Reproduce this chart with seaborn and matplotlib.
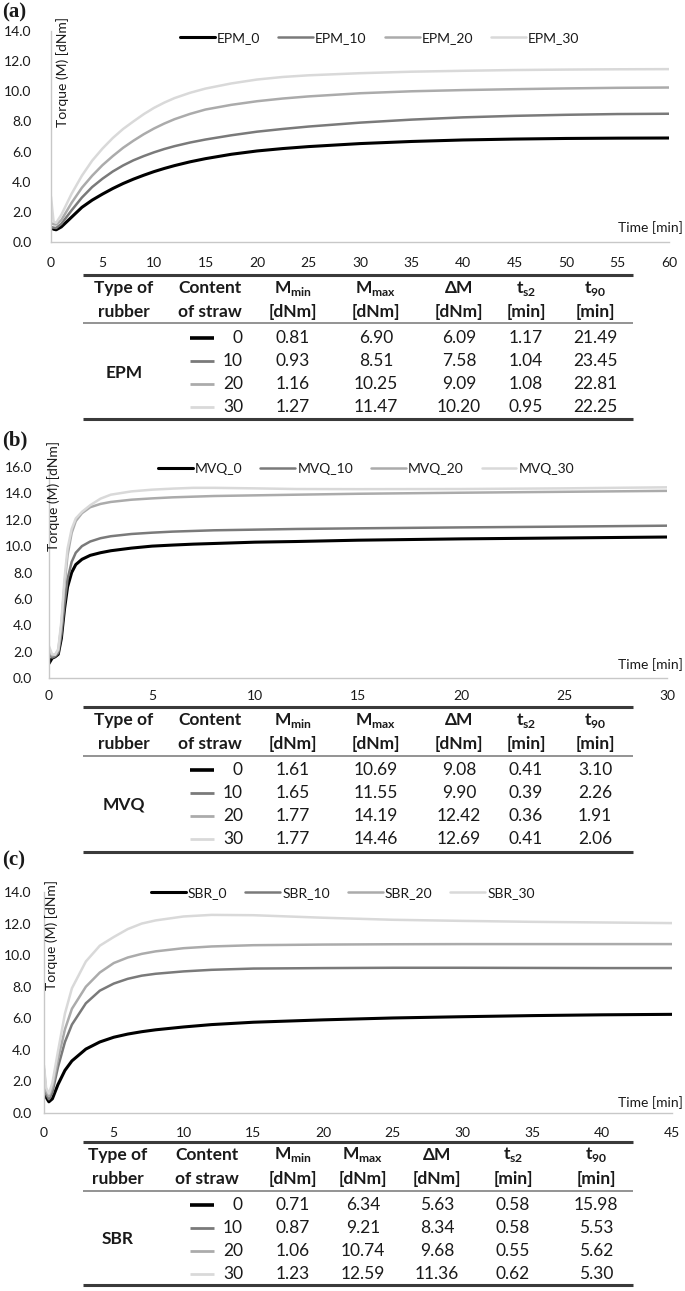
import numpy as np
import pandas as pd
import seaborn as sns
import matplotlib.pyplot as plt
from matplotlib.lines import Line2D
from matplotlib.ticker import FormatStrFormatter

# ---- data ----
t_epm = [0, 0.25, 0.5, 1, 2, 3, 4, 5, 6, 7, 8, 9, 10, 11, 12, 13.5, 15, 17.5, 20, 22.5, 25, 30, 35, 40, 45, 50, 55, 60]
epm_0 = [0.95, 0.85, 0.81, 1.0, 1.65, 2.3, 2.78, 3.18, 3.55, 3.88, 4.17, 4.43, 4.67, 4.88, 5.07, 5.32, 5.53, 5.82, 6.04, 6.2, 6.33, 6.53, 6.67, 6.77, 6.83, 6.87, 6.89, 6.9]
epm_10 = [1.0, 0.95, 0.93, 1.2, 2.1, 2.95, 3.65, 4.2, 4.68, 5.08, 5.42, 5.7, 5.95, 6.17, 6.36, 6.6, 6.8, 7.08, 7.32, 7.5, 7.66, 7.92, 8.12, 8.27, 8.37, 8.44, 8.49, 8.51]
epm_20 = [1.25, 1.18, 1.16, 1.45, 2.6, 3.6, 4.4, 5.1, 5.7, 6.25, 6.72, 7.15, 7.53, 7.86, 8.15, 8.5, 8.79, 9.1, 9.34, 9.52, 9.66, 9.87, 10.0, 10.08, 10.14, 10.19, 10.23, 10.25]
epm_30 = [3.0, 1.35, 1.27, 1.8, 3.2, 4.4, 5.4, 6.2, 6.9, 7.5, 8.0, 8.48, 8.9, 9.25, 9.55, 9.9, 10.18, 10.52, 10.78, 10.95, 11.06, 11.2, 11.3, 11.36, 11.41, 11.44, 11.46, 11.47]

t_mvq = [0, 0.15, 0.3, 0.45, 0.6, 0.75, 0.9, 1.1, 1.3, 1.6, 2, 2.5, 3, 4, 5, 6, 7, 8, 10, 12, 15, 20, 25, 30]
mvq_0 = [1.1, 1.5, 1.61, 1.8, 3.0, 5.2, 6.9, 8.0, 8.6, 9.0, 9.3, 9.5, 9.65, 9.85, 10.0, 10.08, 10.15, 10.2, 10.3, 10.35, 10.45, 10.55, 10.62, 10.69]
mvq_10 = [1.8, 1.55, 1.65, 1.9, 3.3, 5.6, 7.5, 8.8, 9.5, 10.0, 10.35, 10.6, 10.75, 10.92, 11.02, 11.1, 11.15, 11.2, 11.25, 11.3, 11.35, 11.42, 11.48, 11.55]
mvq_20 = [2.2, 1.7, 1.77, 2.1, 4.0, 7.0, 9.3, 11.0, 11.9, 12.5, 12.95, 13.2, 13.35, 13.52, 13.62, 13.7, 13.75, 13.8, 13.85, 13.9, 13.97, 14.05, 14.12, 14.19]
mvq_30 = [2.4, 1.8, 1.77, 2.2, 4.3, 7.5, 9.8, 11.3, 12.1, 12.6, 13.1, 13.6, 13.9, 14.15, 14.28, 14.36, 14.42, 14.42, 14.38, 14.33, 14.32, 14.33, 14.38, 14.46]

t_sbr = [0, 0.15, 0.35, 0.6, 1, 1.5, 2, 3, 4, 5, 6, 7, 8, 10, 12, 15, 20, 25, 30, 35, 40, 45]
sbr_0 = [2.0, 1.0, 0.71, 0.9, 1.8, 2.7, 3.3, 4.05, 4.5, 4.8, 5.0, 5.15, 5.27, 5.45, 5.6, 5.75, 5.9, 6.02, 6.1, 6.17, 6.22, 6.25]
sbr_10 = [2.5, 1.2, 0.87, 1.3, 2.9, 4.5, 5.6, 6.95, 7.75, 8.2, 8.5, 8.7, 8.82, 8.97, 9.07, 9.15, 9.18, 9.2, 9.2, 9.19, 9.18, 9.18]
sbr_20 = [2.8, 1.4, 1.06, 1.6, 3.4, 5.3, 6.6, 8.0, 8.9, 9.5, 9.85, 10.08, 10.24, 10.44, 10.55, 10.63, 10.67, 10.69, 10.7, 10.7, 10.7, 10.7]
sbr_30 = [3.0, 1.6, 1.23, 1.9, 3.9, 6.3, 7.9, 9.6, 10.6, 11.15, 11.65, 12.0, 12.2, 12.45, 12.55, 12.53, 12.37, 12.24, 12.17, 12.11, 12.07, 12.03]

straw = ['0', '10', '20', '30']

# ---- table values ----
epm_tab = {'mmin': ['0.81', '0.93', '1.16', '1.27'], 'mmax': ['6.90', '8.51', '10.25', '11.47'],
           'dm': ['6.09', '7.58', '9.09', '10.20'], 'ts2': ['1.17', '1.04', '1.08', '0.95'],
           't90': ['21.49', '23.45', '22.81', '22.25']}
mvq_tab = {'mmin': ['1.61', '1.65', '1.77', '1.77'], 'mmax': ['10.69', '11.55', '14.19', '14.46'],
           'dm': ['9.08', '9.90', '12.42', '12.69'], 'ts2': ['0.41', '0.39', '0.36', '0.41'],
           't90': ['3.10', '2.26', '1.91', '2.06']}
sbr_tab = {'mmin': ['0.71', '0.87', '1.06', '1.23'], 'mmax': ['6.34', '9.21', '10.74', '12.59'],
           'dm': ['5.63', '8.34', '9.68', '11.36'], 'ts2': ['0.58', '0.58', '0.55', '0.62'],
           't90': ['15.98', '5.53', '5.62', '5.30']}

colors = ['#000000', '#7a7a7a', '#ababab', '#d9d9d9']
widths = [2.2, 1.8, 1.8, 1.8]

W, H = 685, 1291
sns.set_style('white')
plt.rcParams['font.family'] = ['Lato', 'DejaVu Sans']
plt.rcParams['text.color'] = '#1a1a1a'

fig = plt.figure(figsize=(W / 100, H / 100), dpi=100)


def fx(p):
    return p / W


def fy(p):
    return 1 - p / H


def hline(x0, x1, y, lw, c):
    fig.add_artist(Line2D([fx(x0), fx(x1)], [fy(y), fy(y)], lw=lw, color=c, solid_capstyle='butt'))


def draw_panel(box, t, series, rubber, ymax, xmax, leg, ylab, time_y, tag, tag_y, ypad, xpad):
    left, right, top, bottom = box
    ax = fig.add_axes([fx(left), fy(bottom), (right - left) / W, (bottom - top) / H])
    df = pd.DataFrame({'t': t})
    for i, vals in enumerate(series):
        df['v'] = vals
        sns.lineplot(data=df, x='t', y='v', ax=ax, color=colors[i], lw=widths[i],
                     label=f'{rubber}_{straw[i]}')
    ax.set_xlim(0, xmax)
    ax.set_ylim(0, ymax)
    ax.set_xticks(np.arange(0, xmax + 1, 5))
    ax.set_yticks(np.arange(0, ymax + 0.1, 2))
    ax.yaxis.set_major_formatter(FormatStrFormatter('%.1f'))
    ax.set_xlabel('')
    ax.set_ylabel('')
    for s in ['top', 'right']:
        ax.spines[s].set_visible(False)
    for s in ['left', 'bottom']:
        ax.spines[s].set_color('#c8c8c8')
        ax.spines[s].set_linewidth(1)
    ax.tick_params(axis='both', direction='out', length=4, width=1, color='#c8c8c8',
                   labelsize=10, labelcolor='#1a1a1a')
    ax.tick_params(axis='y', pad=ypad)
    ax.tick_params(axis='x', pad=xpad)
    ax.legend(loc='center', bbox_to_anchor=leg, ncol=4, frameon=False, fontsize=10,
              handlelength=2.5, handletextpad=0.15, columnspacing=1.3)
    fig.text(fx(ylab[0]), fy(ylab[1]), 'Torque (M) [dNm]', rotation=90, ha='center', va='center', fontsize=10)
    fig.text(fx(683), fy(time_y), 'Time [min]', ha='right', va='center', fontsize=10)
    fig.text(fx(2), fy(tag_y), tag, family='Liberation Serif', weight='bold', fontsize=15,
             ha='left', va='center')
    return ax


def draw_table(ys, cols, rubber, tab):
    top, h1, h2, sep, rows, bot = ys
    hline(83, 633, top, 2.2, '#3a3a3a')
    hline(83, 633, sep, 1.3, '#8a8a8a')
    hline(83, 633, bot, 2.2, '#3a3a3a')
    heads = [('Type of', 'rubber'), ('Content', 'of straw'),
             (r'M$_\mathregular{min}$', '[dNm]'), (r'M$_\mathregular{max}$', '[dNm]'),
             ('ΔM', '[dNm]'), (r't$_\mathregular{s2}$', '[min]'), (r't$_\mathregular{90}$', '[min]')]
    for cx, (a, b) in zip(cols, heads):
        fig.text(fx(cx), fy(h1), a, ha='center', va='center', fontsize=12.5, weight='bold')
        fig.text(fx(cx), fy(h2), b, ha='center', va='center', fontsize=12.5, weight='bold')
    fig.text(fx(cols[0]), fy(np.mean(rows)), rubber, ha='center', va='center', fontsize=12.5, weight='bold')
    keys = ['mmin', 'mmax', 'dm', 'ts2', 't90']
    for i, ry in enumerate(rows):
        hline(190, 214, ry, 2.6 if i == 0 else 2.0, colors[i])
        fig.text(fx(243), fy(ry), straw[i], ha='right', va='center', fontsize=12.5)
        for cx, k in zip(cols[2:], keys):
            fig.text(fx(cx), fy(ry), tab[k][i], ha='center', va='center', fontsize=12.5)


# (a) EPM
draw_panel((51, 669, 31, 242), t_epm, [epm_0, epm_10, epm_20, epm_30], 'EPM', 14, 60,
           (0.532, 0.967), (63, 72), 228, '(a)', 12, 10, 7)
draw_table((275, 288, 312, 323, [338, 361, 384, 407], 419),
           [124, 210, 293, 376, 459, 526, 595], 'EPM', epm_tab)

# (b) MVQ
draw_panel((49, 667, 467, 678), t_mvq, [mvq_0, mvq_10, mvq_20, mvq_30], 'MVQ', 16, 30,
           (0.513, 0.99), (54, 496), 665, '(b)', 440, 8, 5)
draw_table((707, 720, 744, 756, [770, 793, 816, 839], 852),
           [124, 210, 293, 376, 459, 526, 595], 'MVQ', mvq_tab)

# (c) SBR
draw_panel((44, 672, 892, 1113), t_sbr, [sbr_0, sbr_10, sbr_20, sbr_30], 'SBR', 14, 45,
           (0.476, 0.995), (52, 935), 1103, '(c)', 860, 5, 6)
draw_table((1142, 1155, 1179, 1191, [1205, 1228, 1251, 1274], 1285),
           [118, 207, 293, 363, 437, 513, 596], 'SBR', sbr_tab)

fig.savefig('out.png', dpi=100)
